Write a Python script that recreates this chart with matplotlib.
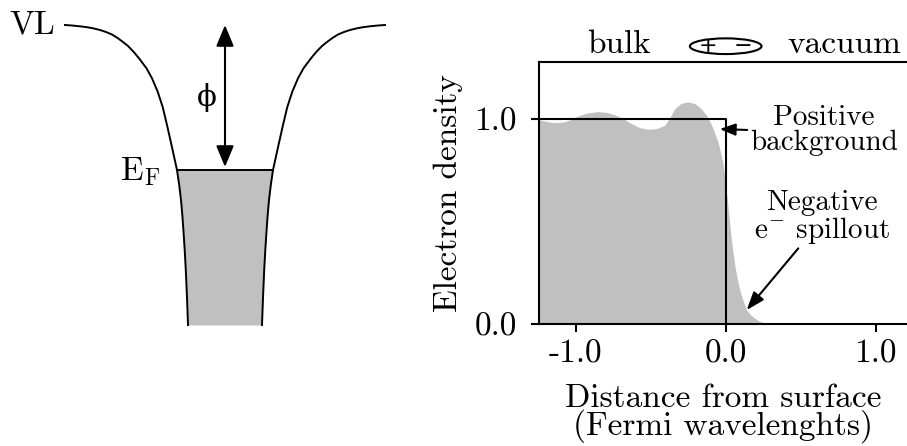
import numpy as np
import matplotlib.pyplot as plt
from matplotlib.patches import Ellipse, FancyArrowPatch

plt.rcParams.update({
    "font.family": "cmr10",
    "mathtext.fontset": "cm",
    "axes.unicode_minus": False,
    "axes.formatter.use_mathtext": True,
    "font.size": 24,
})

# left sketch: potential well (pixel-like units, y down)
well_center = 225
well_y = [25, 25.5, 26.3, 27.2, 28.3, 30, 32, 34.5, 38.3, 42, 46, 51.7, 58.3,
          68.3, 78.3, 91.7, 107, 125, 145, 170, 185, 200, 216, 233, 250, 270,
          300, 325]
well_half = [160, 153, 145, 138, 132, 125, 119, 113, 107, 102, 97, 91.5, 86,
             78.5, 73, 67.3, 62.3, 58, 53.5, 48, 45.8, 44, 42.6, 41.4, 40.3, 39.2,
             37.9, 37]
fermi_y = 170
vl_y = 25

# right panel: electron density profile
dens_x = [-1.251, -1.21, -1.165, -1.12, -1.071, -1.03, -0.985, -0.92, -0.851,
          -0.79, -0.738, -0.68, -0.631, -0.575, -0.518, -0.46, -0.405, -0.37,
          -0.338, -0.30, -0.251, -0.205, -0.165, -0.13, -0.105, -0.085, -0.065,
          -0.05, -0.038, -0.02, -0.009, 0.011, 0.033, 0.047, 0.062, 0.08, 0.10,
          0.12, 0.14, 0.165, 0.195, 0.22, 0.25, 0.30]
dens_y = [0.998, 0.99, 0.984, 0.983, 0.987, 0.998, 1.015, 1.03, 1.036,
          1.032, 1.02, 1.0, 0.979, 0.958, 0.95, 0.953, 0.97, 1.01,
          1.052, 1.075, 1.084, 1.075, 1.052, 1.02, 0.987, 0.955, 0.914,
          0.885, 0.849, 0.79, 0.735, 0.605, 0.444, 0.36, 0.28, 0.21, 0.15,
          0.105, 0.068, 0.045, 0.028, 0.015, 0.006, 0.0]
bg_x = [-1.245, 0.0, 0.0]
bg_y = [1.0, 1.0, 0.0]
xticks = [-1.0, 0.0, 1.0]
xticklabels = ["-1.0", "0.0", "1.0"]
yticks = [0.0, 1.0]
yticklabels = ["0.0", "1.0"]

fig = plt.figure(figsize=(9.07, 4.46), dpi=100)

# ---- left sketch
ax0 = fig.add_axes([0, 0, 1, 1])
ax0.set_xlim(0, 907)
ax0.set_ylim(446, 0)
ax0.axis("off")
wy = np.array(well_y)
wh = np.array(well_half)
xl = well_center - wh
xr = well_center + wh
m = wy >= fermi_y
ax0.fill_betweenx(wy[m], xl[m], xr[m], color="#c0c0c0", lw=0)
ax0.plot(xl, wy, color="k", lw=1.4)
ax0.plot(xr, wy, color="k", lw=1.4)
ax0.plot([xl[m][0], xr[m][0]], [fermi_y, fermi_y], color="k", lw=1.4)
arr = FancyArrowPatch((well_center, fermi_y - 3), (well_center, vl_y),
                      arrowstyle="<|-|>,head_length=0.65,head_width=0.27",
                      mutation_scale=20, color="k", lw=1.5,
                      shrinkA=0, shrinkB=0)
ax0.add_patch(arr)
ax0.text(xl[0] - 10, vl_y, "VL", ha="right", va="center")
ax0.text(160, fermi_y + 2, r"$\mathrm{E_F}$", ha="right", va="center")
ax0.text(207, 97, "\u03d5", ha="center", va="center", fontsize=21,
         family="DejaVu Serif")

# ---- right panel
ax = fig.add_axes([539 / 907, 1 - 324 / 446, 368 / 907, 262 / 446])
ax.fill_between(dens_x, dens_y, 0, color="#c0c0c0", lw=0, zorder=1)
ax.plot(bg_x, bg_y, color="k", lw=1.5, zorder=3, clip_on=False)
ax.set_xlim(-1.245, 1.209)
ax.set_ylim(0, 1.278)
ax.spines["right"].set_visible(False)
for s in ["left", "top", "bottom"]:
    ax.spines[s].set_linewidth(1.5)
ax.set_xticks(xticks, xticklabels)
ax.set_yticks(yticks, yticklabels)
ax.tick_params(direction="out", length=6, width=1.5)
ax.tick_params(axis="x", pad=5)
ax.tick_params(axis="y", pad=10)
ax.set_ylabel("Electron density", labelpad=8)
ax.set_xlabel("Distance from surface\n(Fermi wavelenghts)", labelpad=11, linespacing=0.85)

ax.annotate("Positive\nbackground", xy=(-0.04, 0.951), xytext=(0.655, 0.946),
            ha="center", va="center", linespacing=0.93, fontsize=21,
            arrowprops=dict(arrowstyle="-|>,head_length=0.47,head_width=0.18",
                            mutation_scale=20, color="k", lw=1.5,
                            shrinkA=0, shrinkB=0, relpos=(0, 0.5)))
ax.annotate("", xy=(0.14, 0.068), xytext=(0.484, 0.369),
            arrowprops=dict(arrowstyle="-|>,head_length=0.55,head_width=0.2",
                            mutation_scale=20, color="k", lw=1.5,
                            shrinkA=0, shrinkB=0))
ax.text(0.64, 0.517, "Negative\n" + r"e$^{\mathrm{-}}$ spillout",
        ha="center", va="center", linespacing=0.93, fontsize=21)

ax.text(-0.711, 1.322, "bulk", ha="center", va="baseline", clip_on=False)
ax.text(0.789, 1.322, "vacuum", ha="center", va="baseline", clip_on=False)
ax.add_patch(Ellipse((0.0, 1.355), 0.478, 0.0766, fill=False, ec="k", lw=1.5,
                     clip_on=False))
ax.text(-0.118, 1.355, "+", ha="center", va="center", fontsize=16,
        family="DejaVu Sans", clip_on=False)
ax.text(0.115, 1.355, "\u2212", ha="center", va="center", fontsize=16,
        family="DejaVu Sans", clip_on=False)

fig.savefig("out.png", dpi=100)
